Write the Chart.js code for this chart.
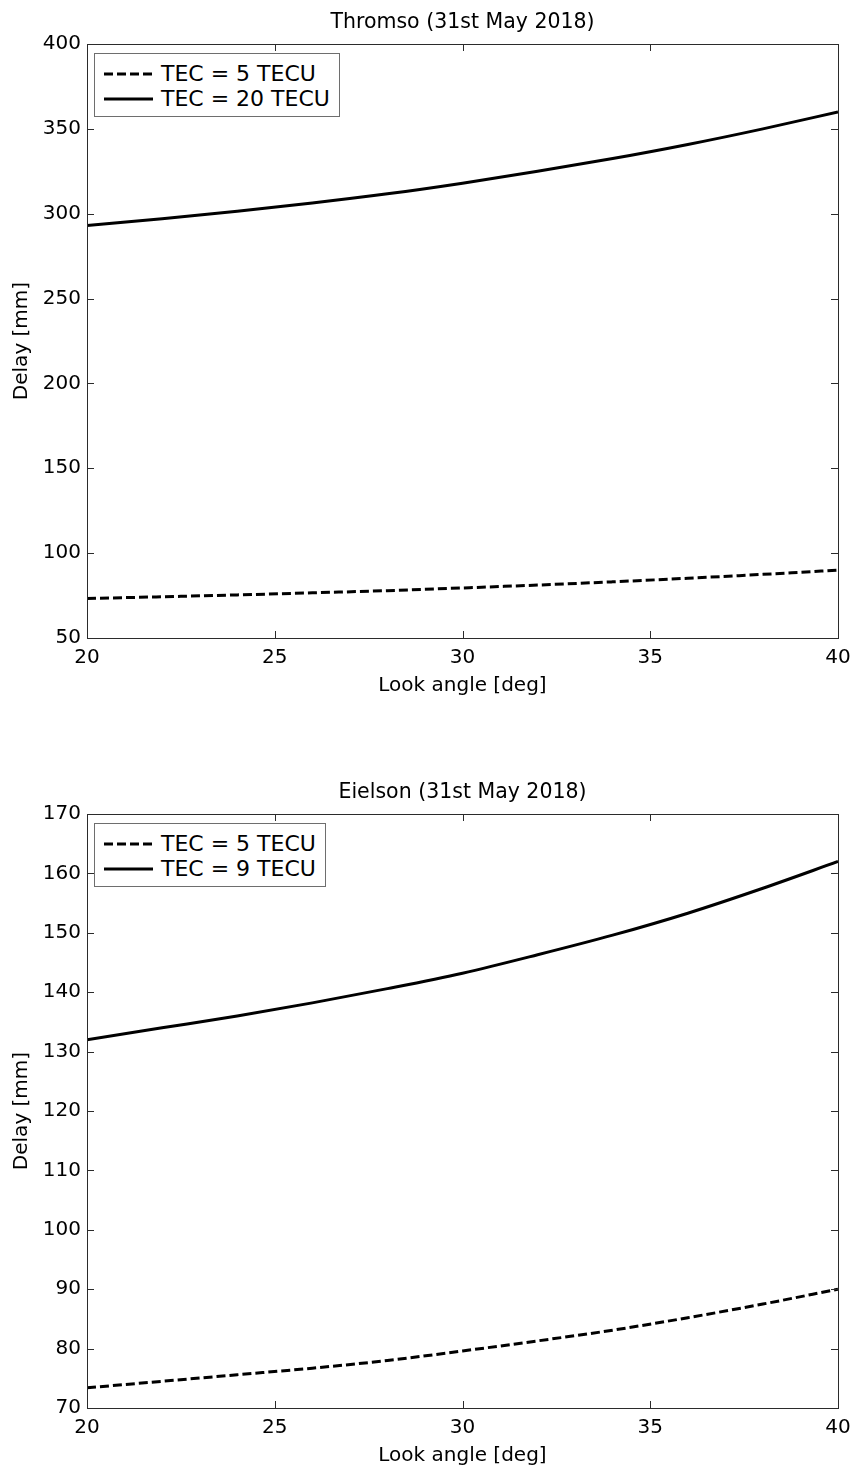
<!DOCTYPE html>
<html>
<head>
<meta charset="utf-8">
<script src="https://cdn.jsdelivr.net/npm/chart.js@4/dist/chart.umd.min.js"></script>
<style>
  body { margin: 0; background: #fff; width: 854px; height: 1469px; overflow: hidden; position: relative; }
  .wrap { position: absolute; left: 0; width: 854px; height: 699px; }
  .legend { position: absolute; left: 94px; top: 53px; border: 1px solid #6e6e6e; background: #fff;
            padding: 7px 9px 5px 9px; font-family: "DejaVu Sans", sans-serif; font-size: 22px; color: #000; }
  .legend .row { display: flex; align-items: center; height: 25px; white-space: nowrap; }
  .legend svg { margin-right: 8px; }
</style>
</head>
<body>
<div class="wrap" style="top:0px"><canvas id="chartTop" width="854" height="699"></canvas><div class="legend" id="legendTop"></div></div>
<div class="wrap" style="top:770px"><canvas id="chartBottom" width="854" height="699"></canvas><div class="legend" id="legendBottom"></div></div>
<script>
// ----------- DATA ------------
const look_angle = [20, 22, 24, 26, 28, 30, 32, 34, 36, 38, 40];

const thromso_low  = [73.3, 74.3, 75.4, 76.6, 77.9, 79.5, 81.2, 83.1, 85.2, 87.5, 90.0];
const thromso_high = [293.0, 297.0, 301.5, 306.3, 311.7, 318.0, 325.0, 332.5, 340.8, 350.0, 360.0];

const eielson_low  = [73.4, 74.5, 75.6, 76.7, 78.0, 79.6, 81.3, 83.1, 85.2, 87.5, 90.0];
const eielson_high = [132.0, 134.0, 136.0, 138.2, 140.6, 143.2, 146.3, 149.6, 153.3, 157.5, 162.0];

const x_ticks = [20, 25, 30, 35, 40];

// ----------- HELPERS ------------
const FONT = '"DejaVu Sans", sans-serif';

function to_points(ys){
  return look_angle.map((x, i) => ({x: x, y: ys[i]}));
}

// MATLAB style box with ticks pointing inward on all four sides
const boxTicks = {
  id: 'boxTicks',
  afterDraw(chart){
    const {ctx, chartArea: a, scales} = chart;
    const len = 7;
    ctx.save();
    ctx.strokeStyle = '#2b2b2b';
    ctx.lineWidth = 1;
    ctx.beginPath();
    scales.x.ticks.forEach(t => {
      const px = Math.round(scales.x.getPixelForValue(t.value)) + 0.5;
      ctx.moveTo(px, a.bottom); ctx.lineTo(px, a.bottom - len);
      ctx.moveTo(px, a.top);    ctx.lineTo(px, a.top + len);
    });
    scales.y.ticks.forEach(t => {
      const py = Math.round(scales.y.getPixelForValue(t.value)) + 0.5;
      ctx.moveTo(a.left, py);  ctx.lineTo(a.left + len, py);
      ctx.moveTo(a.right, py); ctx.lineTo(a.right - len, py);
    });
    ctx.stroke();
    ctx.strokeRect(Math.round(a.left) + 0.5, Math.round(a.top) + 0.5,
                   Math.round(a.right - a.left), Math.round(a.bottom - a.top));
    ctx.restore();
  }
};

function build_legend(chart, el){
  el.innerHTML = '';
  chart.data.datasets.forEach(ds => {
    const row = document.createElement('div');
    row.className = 'row';
    const dash = ds.borderDash && ds.borderDash.length ? 'stroke-dasharray="9,4"' : '';
    row.innerHTML = '<svg width="49" height="6"><line x1="0" y1="3" x2="49" y2="3" stroke="#000" stroke-width="3" ' + dash + '/></svg>' +
                    '<span>' + ds.label + '</span>';
    el.appendChild(row);
  });
}

function make_chart(canvas_id, legend_id, title, series, y_min, y_max, y_step){
  const chart = new Chart(document.getElementById(canvas_id), {
    type: 'line',
    data: {
      datasets: series.map(s => ({
        label: s.label,
        data: to_points(s.values),
        borderColor: '#000',
        borderWidth: 3,
        borderDash: s.dashed ? [9, 4] : [],
        pointRadius: 0,
        fill: false,
        cubicInterpolationMode: 'monotone'
      }))
    },
    options: {
      responsive: false,
      animation: false,
      layout: { padding: { left: 0, right: 16, top: 0, bottom: 0 } },
      plugins: {
        legend: { display: false },
        tooltip: { enabled: false },
        title: {
          display: true, text: title, color: '#000', fullSize: false,
          font: { family: FONT, size: 20.5, weight: 'normal' },
          padding: { top: 10, bottom: 9.4 }
        }
      },
      scales: {
        x: {
          type: 'linear', min: 20, max: 40,
          afterBuildTicks: s => { s.ticks = x_ticks.map(v => ({value: v})); },
          afterFit: s => { s.height = 61; s.paddingLeft = 0; s.paddingRight = 0; },
          grid: { display: false, drawTicks: false },
          border: { display: false },
          ticks: { color: '#000', padding: 8, font: { family: FONT, size: 20 } },
          title: { display: true, text: 'Look angle [deg]', color: '#000',
                   font: { family: FONT, size: 20 }, padding: { top: 0, bottom: 1 } }
        },
        y: {
          min: y_min, max: y_max,
          ticks: { stepSize: y_step, color: '#000', padding: 6, font: { family: FONT, size: 20 } },
          afterFit: s => { s.width = 87; },
          grid: { display: false, drawTicks: false },
          border: { display: false },
          title: { display: true, text: 'Delay [mm]', color: '#000',
                   font: { family: FONT, size: 20 }, padding: { top: 10, bottom: 0 } }
        }
      }
    },
    plugins: [boxTicks]
  });
  build_legend(chart, document.getElementById(legend_id));
  return chart;
}

// ----------- MAIN ------------
function main(){
  make_chart('chartTop', 'legendTop', 'Thromso (31st May 2018)', [
    { label: 'TEC = 5 TECU',  values: thromso_low,  dashed: true },
    { label: 'TEC = 20 TECU', values: thromso_high, dashed: false }
  ], 50, 400, 50);

  make_chart('chartBottom', 'legendBottom', 'Eielson (31st May 2018)', [
    { label: 'TEC = 5 TECU', values: eielson_low,  dashed: true },
    { label: 'TEC = 9 TECU', values: eielson_high, dashed: false }
  ], 70, 170, 10);
}

main();
</script>
</body>
</html>
